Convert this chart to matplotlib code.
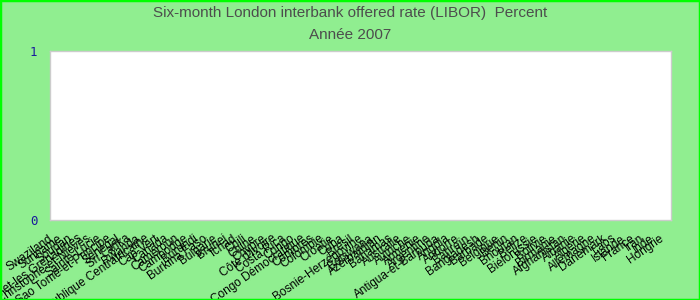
import matplotlib
matplotlib.use('Agg')

import matplotlib.pyplot as plt
import matplotlib.patches as mpatches
import matplotlib.transforms as mtransforms

TITLE = 'Six-month London interbank offered rate (LIBOR)  Percent'
SUBTITLE = 'Année 2007'

countries = [
	'Swaziland', 'Suriname', 'Soudan', 'Saint-Vincent-et-les Grenadines',
	'Saint-Christophe-et-Niévès', 'Sainte-Lucie', 'Sao Tomé-et-Principe', 'Sénégal',
	'Sri Lanka', 'Rwanda', 'République Centrafricaine', 'Cap-Vert', 'Canada',
	'Cameroun', 'Cambodge', 'Burundi', 'Burkina Faso', 'Bulgarie', 'Brunei',
	'Tchad', 'Chili', 'Chine', 'Chypre', "Côte d'Ivoire", 'Costa Rica', 'Congo',
	'Congo Démocratique', 'Comores', 'Colombie', 'Croatie', 'Cuba', 'Brésil',
	'Bosnie-Herzégovine', 'Botswana', 'Azerbaïdjan', 'Bahamas', 'Australie',
	'Autriche', 'Arménie', 'Argentine', 'Antigua-et-Barbuda', 'Angola', 'Andorre',
	'Bahreïn', 'Bangladesh', 'Barbade', 'Belgique', 'Bénin', 'Bhoutan', 'Belize',
	'Biélorussie', 'Bolivie', 'Birmanie', 'Afghanistan', 'Albanie', 'Algérie',
	'Allemagne', 'Danemark', 'Laos', 'Islande', 'France', 'Iran', 'Inde', 'Hongrie',
]
# no values published for 2007: the series is empty
rates = []

y_ticks = [0, 1]

fig = plt.figure(figsize=(7, 3), dpi=100, facecolor='#90EE90')
fig.patches.append(mpatches.Rectangle((0, 0), 1, 1, transform=fig.transFigure,
	fill=False, edgecolor='#00FF00', linewidth=2.5))

ax = fig.add_axes([50 / 700, 1 - 220 / 300, 621 / 700, 169 / 300])
ax.set_facecolor('white')

x = range(len(countries))
if rates:
	ax.bar(x, rates, color='#4572A7')

ax.set_xlim(-0.5, len(countries) - 0.5)
ax.set_ylim(0, 1)

ax.set_xticks(list(x))
ax.set_xticklabels(countries, rotation=35, ha='right', va='top',
	rotation_mode='anchor', fontsize=8.5, family='Liberation Sans', color='black')
ax.set_yticks(y_ticks)
ax.set_yticklabels([str(v) for v in y_ticks], fontsize=9,
	family='DejaVu Sans Mono', color='#1a1a9c')

ax.tick_params(axis='x', length=0, pad=9)
ax.tick_params(axis='y', length=0, pad=9)

# labels sit a little left of the category centres
shift = mtransforms.ScaledTranslation(-7 / 100, 0, fig.dpi_scale_trans)
for lbl in ax.get_xticklabels():
	lbl.set_transform(lbl.get_transform() + shift)

for s in ax.spines.values():
	s.set_color('#cccccc')
	s.set_linewidth(1)

fig.text(0.5, 1 - 13 / 300, TITLE, ha='center', va='center', fontsize=11,
	family='Liberation Sans', color='#4d4d4d')
fig.text(0.5, 1 - 35 / 300, SUBTITLE, ha='center', va='center', fontsize=11,
	family='Liberation Sans', color='#4d4d4d')

fig.savefig('out.png', dpi=100, facecolor=fig.get_facecolor())
